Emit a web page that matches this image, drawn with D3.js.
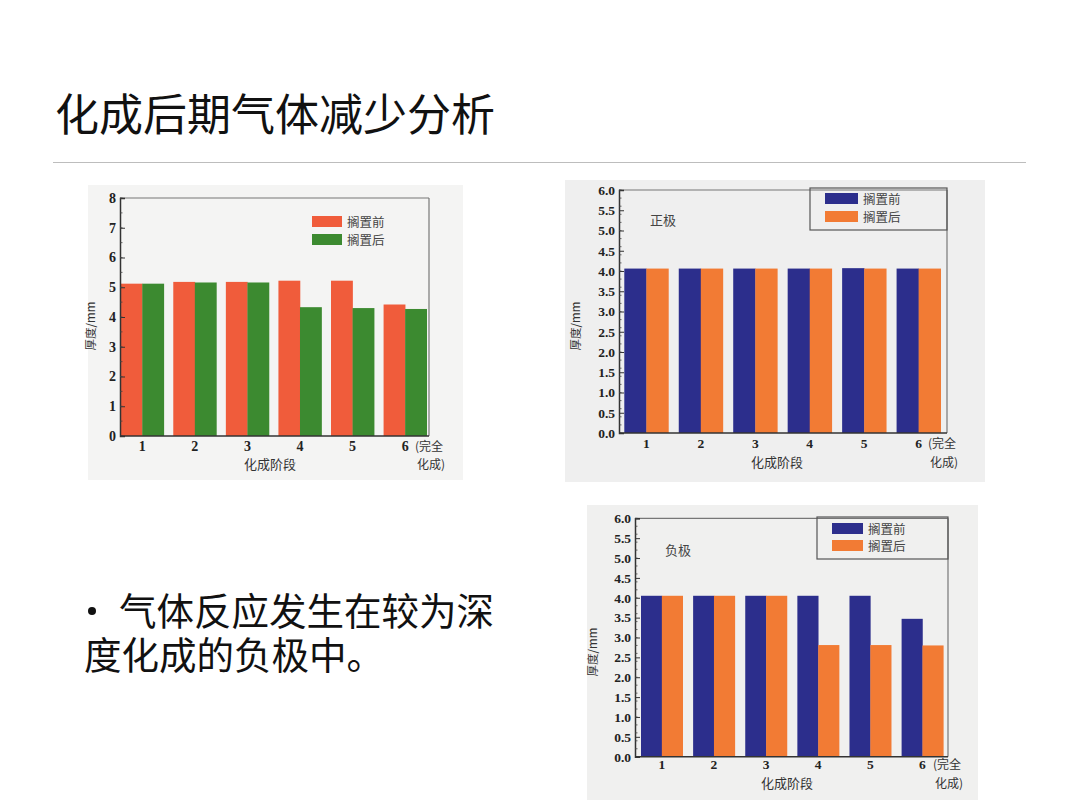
<!DOCTYPE html>
<html>
<head>
<meta charset="utf-8">
<script src="https://cdn.jsdelivr.net/npm/d3@7"></script>
<style>
  body { margin: 0; background: #fff; }
  svg { display: block; }
</style>
</head>
<body>
<svg id="slide" width="1080" height="809"></svg>
<script>
// data
var stages = ["1", "2", "3", "4", "5", "6"];
var series_names = ["搁置前", "搁置后"];

var overall_before = [5.12, 5.18, 5.18, 5.22, 5.22, 4.42];
var overall_after  = [5.12, 5.16, 5.16, 4.33, 4.30, 4.27];

var positive_before = [4.06, 4.06, 4.06, 4.06, 4.07, 4.06];
var positive_after  = [4.06, 4.06, 4.06, 4.06, 4.06, 4.06];

var negative_before = [4.05, 4.05, 4.05, 4.05, 4.05, 3.47];
var negative_after  = [4.05, 4.05, 4.05, 2.81, 2.81, 2.80];

var overall_ticks = [0, 1, 2, 3, 4, 5, 6, 7, 8];
var electrode_ticks = [0, 0.5, 1, 1.5, 2, 2.5, 3, 3.5, 4, 4.5, 5, 5.5, 6];

var title_text = "化成后期气体减少分析";
var bullet_lines = ["气体反应发生在较为深", "度化成的负极中。"];

var svg = d3.select('#slide');
var serif = "'Liberation Serif', 'DejaVu Serif', serif";
var cjk = "'Noto Sans CJK SC', 'Noto Sans', sans-serif";

// slide title + rule
svg.append('text')
  .attr('x', 55).attr('y', 131)
  .attr('font-family', cjk).attr('font-size', 44)
  .attr('fill', '#111')
  .text(title_text);
svg.append('line')
  .attr('x1', 53).attr('x2', 1026).attr('y1', 162.5).attr('y2', 162.5)
  .attr('stroke', '#bdbdbd').attr('stroke-width', 1.2);

// bullet paragraph (one text, two wrapped lines)
svg.append('circle').attr('cx', 92).attr('cy', 611).attr('r', 4).attr('fill', '#111');
var para = svg.append('text')
  .attr('font-family', cjk).attr('font-size', 37.5)
  .attr('fill', '#111');
bullet_lines.forEach(function (line, i) {
  para.append('tspan')
    .attr('x', i == 0 ? 119 : 84).attr('y', 625 + i * 44)
    .text(line);
});

function draw_chart(o) {
  var g = svg.append('g');

  // the scanned figure's light backing
  g.append('rect')
    .attr('x', o.panel[0]).attr('y', o.panel[1])
    .attr('width', o.panel[2] - o.panel[0]).attr('height', o.panel[3] - o.panel[1])
    .attr('fill', o.panel_fill);

  var y = d3.scaleLinear().domain(o.y_domain).range([o.bottom, o.top]);
  var x0 = d3.scaleBand().domain(stages).range(o.band_range)
    .paddingInner(o.pad_inner).paddingOuter(0);
  var x1 = d3.scaleBand().domain([0, 1]).range([0, x0.bandwidth()]);

  // bars
  var rows = stages.map(function (s, i) {
    return { stage: s, values: [o.before[i], o.after[i]] };
  });
  var group = g.selectAll('g.stage').data(rows).enter().append('g')
    .attr('class', 'stage')
    .attr('transform', function (d) { return 'translate(' + x0(d.stage) + ',0)'; });
  group.selectAll('rect').data(function (d) { return d.values; }).enter().append('rect')
    .attr('x', function (d, i) { return x1(i); })
    .attr('width', x1.bandwidth() + 0.3)
    .attr('y', function (d) { return y(d); })
    .attr('height', function (d) { return o.bottom - y(d); })
    .attr('fill', function (d, i) { return o.colors[i]; });

  // frame: top + right are light, left + bottom are the axes
  g.append('line').attr('x1', o.left).attr('x2', o.right).attr('y1', o.top).attr('y2', o.top)
    .attr('stroke', '#777').attr('stroke-width', 1.2);
  g.append('line').attr('x1', o.right).attr('x2', o.right).attr('y1', o.top).attr('y2', o.bottom)
    .attr('stroke', '#777').attr('stroke-width', 1.2);

  // y axis, ticks inward
  var y_axis = d3.axisLeft(y).tickValues(o.y_ticks).tickSize(-5).tickPadding(4)
    .tickFormat(o.y_format);
  var ya = g.append('g').attr('transform', 'translate(' + o.left + ',0)').call(y_axis);
  ya.select('.domain').attr('stroke', '#333').attr('stroke-width', 1.5);
  ya.selectAll('.tick line').attr('stroke', '#333');
  ya.selectAll('.tick text')
    .attr('font-family', serif).attr('font-weight', 'bold').attr('font-size', o.tick_size)
    .attr('fill', '#222');
  // minor ticks
  g.selectAll('line.minor').data(y.ticks(o.minor_count)).enter().append('line')
    .attr('class', 'minor')
    .attr('x1', o.left).attr('x2', o.left + 2.5)
    .attr('y1', function (d) { return y(d); }).attr('y2', function (d) { return y(d); })
    .attr('stroke', '#444').attr('stroke-width', 0.8);

  // x axis: labels sit at the centre of each pair
  var x_axis = d3.axisBottom(x0).tickSize(0).tickPadding(0);
  var xa = g.append('g').attr('transform', 'translate(0,' + o.bottom + ')').call(x_axis);
  xa.select('.domain').remove();
  g.append('line').attr('x1', o.left).attr('x2', o.right).attr('y1', o.bottom).attr('y2', o.bottom)
    .attr('stroke', '#333').attr('stroke-width', 1.5);
  xa.selectAll('.tick text')
    .attr('dy', null).attr('y', o.xtick_y - o.bottom)
    .attr('font-family', serif).attr('font-weight', 'bold').attr('font-size', o.tick_size)
    .attr('fill', '#222');

  // extra "(完全 化成)" note beside 6
  g.append('text').attr('x', o.note_x).attr('y', o.xtick_y)
    .attr('font-family', cjk).attr('font-size', 12).attr('fill', '#333').text('(完全');
  g.append('text').attr('x', o.note_x + 2).attr('y', o.xtitle_y)
    .attr('font-family', cjk).attr('font-size', 12).attr('fill', '#333').text('化成)');

  // axis titles
  g.append('text').attr('x', o.xtitle_x).attr('y', o.xtitle_y)
    .attr('text-anchor', 'middle')
    .attr('font-family', cjk).attr('font-size', 13).attr('fill', '#333')
    .text('化成阶段');
  g.append('text')
    .attr('transform', 'translate(' + o.ytitle[0] + ',' + o.ytitle[1] + ') rotate(-90)')
    .attr('text-anchor', 'middle')
    .attr('font-family', cjk).attr('font-size', 11.5).attr('fill', '#333')
    .text('厚度/mm');

  // panel label (正极 / 负极)
  if (o.tag) {
    g.append('text').attr('x', o.tag[0]).attr('y', o.tag[1])
      .attr('font-family', cjk).attr('font-size', 13).attr('fill', '#444')
      .text(o.tag[2]);
  }

  // legend
  if (o.legend_box) {
    g.append('rect')
      .attr('x', o.legend_box[0]).attr('y', o.legend_box[1])
      .attr('width', o.legend_box[2] - o.legend_box[0]).attr('height', o.legend_box[3] - o.legend_box[1])
      .attr('fill', 'none').attr('stroke', '#555').attr('stroke-width', 1.2);
  }
  series_names.forEach(function (name, i) {
    var top = o.legend_y[i];
    g.append('rect')
      .attr('x', o.legend_x).attr('y', top)
      .attr('width', o.swatch_w).attr('height', o.swatch_h)
      .attr('fill', o.colors[i]);
    g.append('text')
      .attr('x', o.legend_x + o.swatch_w + 5).attr('y', top + o.swatch_h - 0.5)
      .attr('font-family', cjk).attr('font-size', 12.5).attr('fill', '#444')
      .text(name);
  });
}

// left chart: 整体
draw_chart({
  panel: [88, 185, 463, 480], panel_fill: '#f4f4f3',
  before: overall_before, after: overall_after,
  colors: ['#f05c3b', '#3c8a30'],
  y_domain: [0, 8], y_ticks: overall_ticks, y_format: d3.format('d'), minor_count: 16,
  left: 120, right: 429, top: 198, bottom: 436,
  band_range: [120.7, 426.7], pad_inner: 0.18,
  tick_size: 14, xtick_y: 451,
  note_x: 415, xtitle_x: 270, xtitle_y: 469,
  ytitle: [95, 326],
  legend_x: 312, legend_y: [216, 234], swatch_w: 30, swatch_h: 11
});

// right top: 正极
draw_chart({
  panel: [565, 180, 985, 482], panel_fill: '#efefef',
  before: positive_before, after: positive_after,
  colors: ['#2c2e8c', '#f27b34'],
  y_domain: [0, 6], y_ticks: electrode_ticks, y_format: d3.format('.1f'), minor_count: 24,
  left: 619, right: 947, top: 190, bottom: 433,
  band_range: [624.3, 940.7], pad_inner: 0.19,
  tick_size: 13.5, xtick_y: 448,
  note_x: 928, xtitle_x: 777, xtitle_y: 467,
  ytitle: [580, 326],
  tag: [650, 225, '正极'],
  legend_box: [810, 188, 947, 230],
  legend_x: 825, legend_y: [193, 211], swatch_w: 33, swatch_h: 11
});

// right bottom: 负极
draw_chart({
  panel: [587, 505, 978, 800], panel_fill: '#f0f0ef',
  before: negative_before, after: negative_after,
  colors: ['#2c2e8c', '#f27b34'],
  y_domain: [0, 6], y_ticks: electrode_ticks, y_format: d3.format('.1f'), minor_count: 24,
  left: 635, right: 948, top: 518.3, bottom: 756.7,
  band_range: [641, 943.3], pad_inner: 0.2,
  tick_size: 13.5, xtick_y: 769,
  note_x: 933, xtitle_x: 787, xtitle_y: 788,
  ytitle: [597, 652],
  tag: [665, 555, '负极'],
  legend_box: [817, 517, 948, 559],
  legend_x: 832, legend_y: [523, 540], swatch_w: 31, swatch_h: 11
});
</script>
</body>
</html>
